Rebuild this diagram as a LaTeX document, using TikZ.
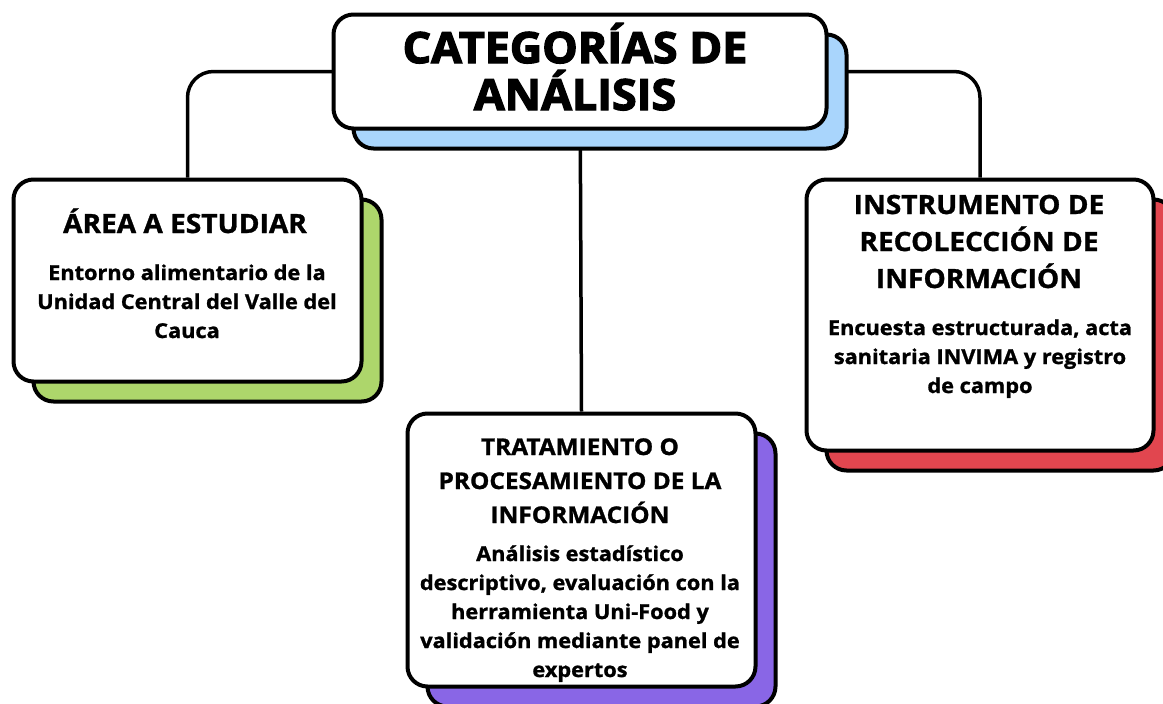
\documentclass[tikz,border=0pt]{standalone}
\usepackage{fontspec}
\setmainfont{Open Sans}[FakeStretch=1.06, BoldFeatures={FakeBold=1.2}]
\newfontfamily\titlefont{Open Sans}[FakeStretch=1.04, BoldFeatures={FakeBold=3}]
\usetikzlibrary{positioning, shadows, backgrounds}

\definecolor{skyblue}{HTML}{A9D5FC}
\definecolor{leafgreen}{HTML}{ADD66B}
\definecolor{berryred}{HTML}{E1464F}
\definecolor{lilac}{HTML}{8966E6}

\begin{document}
\begin{tikzpicture}[x=1pt, y=-1pt]
\tikzset{card/.style={draw=black, fill=white, line width=4pt, rounded corners=20pt, inner sep=0pt},
  backing/.style={copy shadow={shadow xshift=20pt, shadow yshift=-20pt, draw=black, line width=4pt, fill=#1}},
  link/.style={draw=black, line width=3.5pt, rounded corners=26pt},
  headtext/.style={anchor=base, align=center, font=\bfseries\fontsize{26.5}{37}\selectfont},
  bodytext/.style={anchor=base, align=center, font=\bfseries\fontsize{20.5}{29}\selectfont}}

\useasboundingbox (0,0) rectangle (1163,704);
\clip (0,0) rectangle (1163,704);

% the four cards
\node[card, backing=skyblue, minimum width=493pt, minimum height=114pt] (title) at (580,71.5) {};
\node[card, backing=leafgreen, minimum width=348pt, minimum height=202pt] (area) at (187.5,280.5) {};
\node[card, backing=berryred, minimum width=347pt, minimum height=271pt] (instr) at (980,315) {};
\node[card, backing=lilac, minimum width=348pt, minimum height=273pt] (proc) at (581.5,550) {};

% texts of the cards (base = last line)
\node[anchor=base, align=center, font=\titlefont\bfseries\fontsize{43}{47}\selectfont] (title-text) at (575,110)
  {CATEGORÍAS DE\\ANÁLISIS};

\node[headtext] (area-head) at (185,233) {ÁREA A ESTUDIAR};
\node[bodytext] (area-body) at (187,338) {Entorno alimentario de la\\Unidad Central del Valle del\\Cauca};

\node[headtext] (instr-head) at (979,288) {INSTRUMENTO DE\\RECOLECCIÓN DE\\INFORMACIÓN};
\node[bodytext] (instr-body) at (980,393) {Encuesta estructurada, acta\\sanitaria INVIMA y registro\\de campo};

\node[headtext, font=\bfseries\fontsize{23}{34}\selectfont] (proc-head) at (580,523) {TRATAMIENTO O\\PROCESAMIENTO DE LA\\INFORMACIÓN};
\node[bodytext] (proc-body) at (580,677) {Análisis estadístico\\descriptivo, evaluación con la\\herramienta Uni-Food y\\validación mediante panel de\\expertos};

% connectors behind the cards
\begin{scope}[on background layer]
\draw[link] (title.center) -| (area.north);
\draw[link] (title.center) -| (instr.north);
\draw[link] (title.center) -- (proc.north);
\end{scope}

\end{tikzpicture}
\end{document}
